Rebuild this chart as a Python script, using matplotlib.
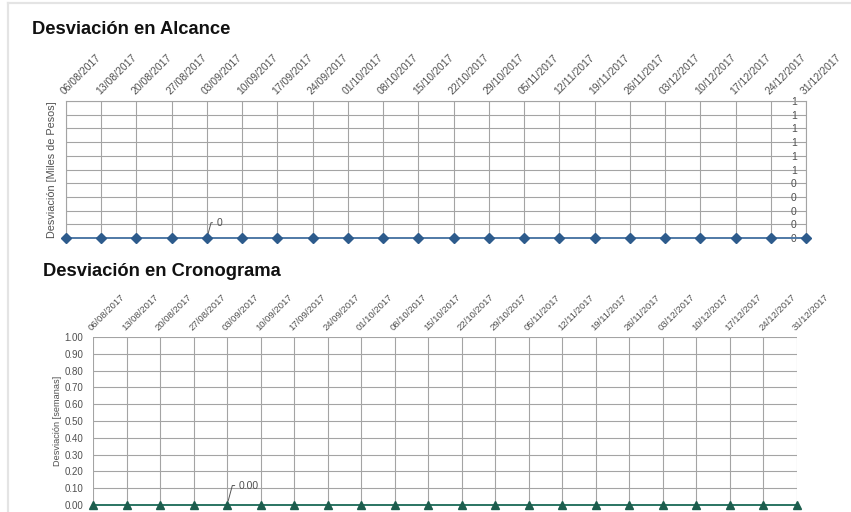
import numpy as np
import matplotlib.pyplot as plt
from matplotlib.lines import Line2D

plt.rcParams['font.family'] = ['Liberation Sans', 'DejaVu Sans']

fechas = ['06/08/2017', '13/08/2017', '20/08/2017', '27/08/2017', '03/09/2017',
          '10/09/2017', '17/09/2017', '24/09/2017', '01/10/2017', '08/10/2017',
          '15/10/2017', '22/10/2017', '29/10/2017', '05/11/2017', '12/11/2017',
          '19/11/2017', '26/11/2017', '03/12/2017', '10/12/2017', '17/12/2017',
          '24/12/2017', '31/12/2017']
desv_alcance = [0] * 22
desv_crono = [0.00] * 22
yticks = [0.0, 0.1, 0.2, 0.3, 0.4, 0.5, 0.6, 0.7, 0.8, 0.9, 1.0]
ylab_alcance = ['0', '0', '0', '0', '0', '1', '1', '1', '1', '1', '1']
ylab_crono = ['0.00', '0.10', '0.20', '0.30', '0.40', '0.50',
              '0.60', '0.70', '0.80', '0.90', '1.00']

grid_c = '#a4a4a4'
txt_c = '#505050'
x = np.arange(len(fechas))

fig = plt.figure(figsize=(8.51, 5.12), dpi=100)
fig.patch.set_facecolor('white')

# light page border
fig.add_artist(Line2D([8/851, 1], [1 - 3/512, 1 - 3/512], color='#e4e4e4', lw=1.6))
fig.add_artist(Line2D([8/851, 8/851], [0, 1 - 3/512], color='#e4e4e4', lw=1.6))

fig.text(32/851, 1 - 30/512, 'Desviación en Alcance', fontsize=13.2, fontweight='bold',
         va='center', ha='left', color='#111111')
fig.text(43/851, 1 - 272/512, 'Desviación en Cronograma', fontsize=13.2, fontweight='bold',
         va='center', ha='left', color='#111111')

# --- Alcance ---
ax1 = fig.add_axes([66/851, 1 - 238/512, 740/851, 137/512])
ax1.plot(x, desv_alcance, color='#4f79a6', lw=1.4, marker='D', ms=5,
         mfc='#2d5b8c', mec='#2d5b8c', clip_on=False, zorder=5)
ax1.set_xlim(0, len(fechas) - 1)
ax1.set_ylim(0, 1)
ax1.set_xticks(x)
ax1.set_yticks(yticks)
ax1.xaxis.tick_top()
ax1.set_xticklabels(fechas, rotation=45, ha='left', va='bottom',
                    rotation_mode='anchor', fontsize=7.5, color=txt_c)
ax1.set_yticklabels(ylab_alcance, fontsize=7.5, color=txt_c)
ax1.tick_params(axis='x', length=0, pad=3)
ax1.tick_params(axis='y', length=0, left=False, right=False,
                labelleft=False, labelright=True, pad=-11)
ax1.grid(True, color=grid_c, lw=0.8)
ax1.set_axisbelow(True)
for s in ['left', 'top', 'right']:
    ax1.spines[s].set_color(grid_c)
    ax1.spines[s].set_linewidth(0.8)
ax1.spines['bottom'].set_visible(False)
ax1.set_ylabel('Desviación [Miles de Pesos]', fontsize=7.8, color=txt_c)
ax1.yaxis.set_label_coords(-0.012, 0.5)
ax1.annotate('0', xy=(4, desv_alcance[4]), xytext=(7, 11), textcoords='offset points',
             ha='left', va='center', fontsize=7.5, color=txt_c,
             arrowprops=dict(arrowstyle='-', color='#555555', lw=0.7, shrinkA=1, shrinkB=3,
                             connectionstyle='angle,angleA=0,angleB=75,rad=0'))

# --- Cronograma ---
ax2 = fig.add_axes([93/851, 1 - 505/512, 704/851, 168/512])
ax2.plot(x, desv_crono, color='#2a7462', lw=1.4, marker='^', ms=6,
         mfc='#1d5e4e', mec='#1d5e4e', clip_on=False, zorder=5)
ax2.set_xlim(0, len(fechas) - 1)
ax2.set_ylim(0, 1)
ax2.set_xticks(x)
ax2.set_yticks(yticks)
ax2.xaxis.tick_top()
ax2.set_xticklabels(fechas, rotation=45, ha='left', va='bottom',
                    rotation_mode='anchor', fontsize=6.8, color=txt_c)
ax2.set_yticklabels(ylab_crono, fontsize=7, color=txt_c)
ax2.tick_params(axis='x', length=0, pad=3)
ax2.tick_params(axis='y', length=0, pad=7)
ax2.grid(True, color=grid_c, lw=0.8)
ax2.set_axisbelow(True)
for s in ax2.spines.values():
    s.set_visible(False)
ax2.set_ylabel('Desviación [semanas]', fontsize=6.6, color=txt_c)
ax2.yaxis.set_label_coords(-0.044, 0.5)
ax2.annotate('0.00', xy=(4, desv_crono[4]), xytext=(8.5, 14), textcoords='offset points',
             ha='left', va='center', fontsize=7.5, color=txt_c,
             arrowprops=dict(arrowstyle='-', color='#555555', lw=0.7, shrinkA=1, shrinkB=3,
                             connectionstyle='angle,angleA=0,angleB=75,rad=0'))

fig.savefig('out.png', dpi=100)
